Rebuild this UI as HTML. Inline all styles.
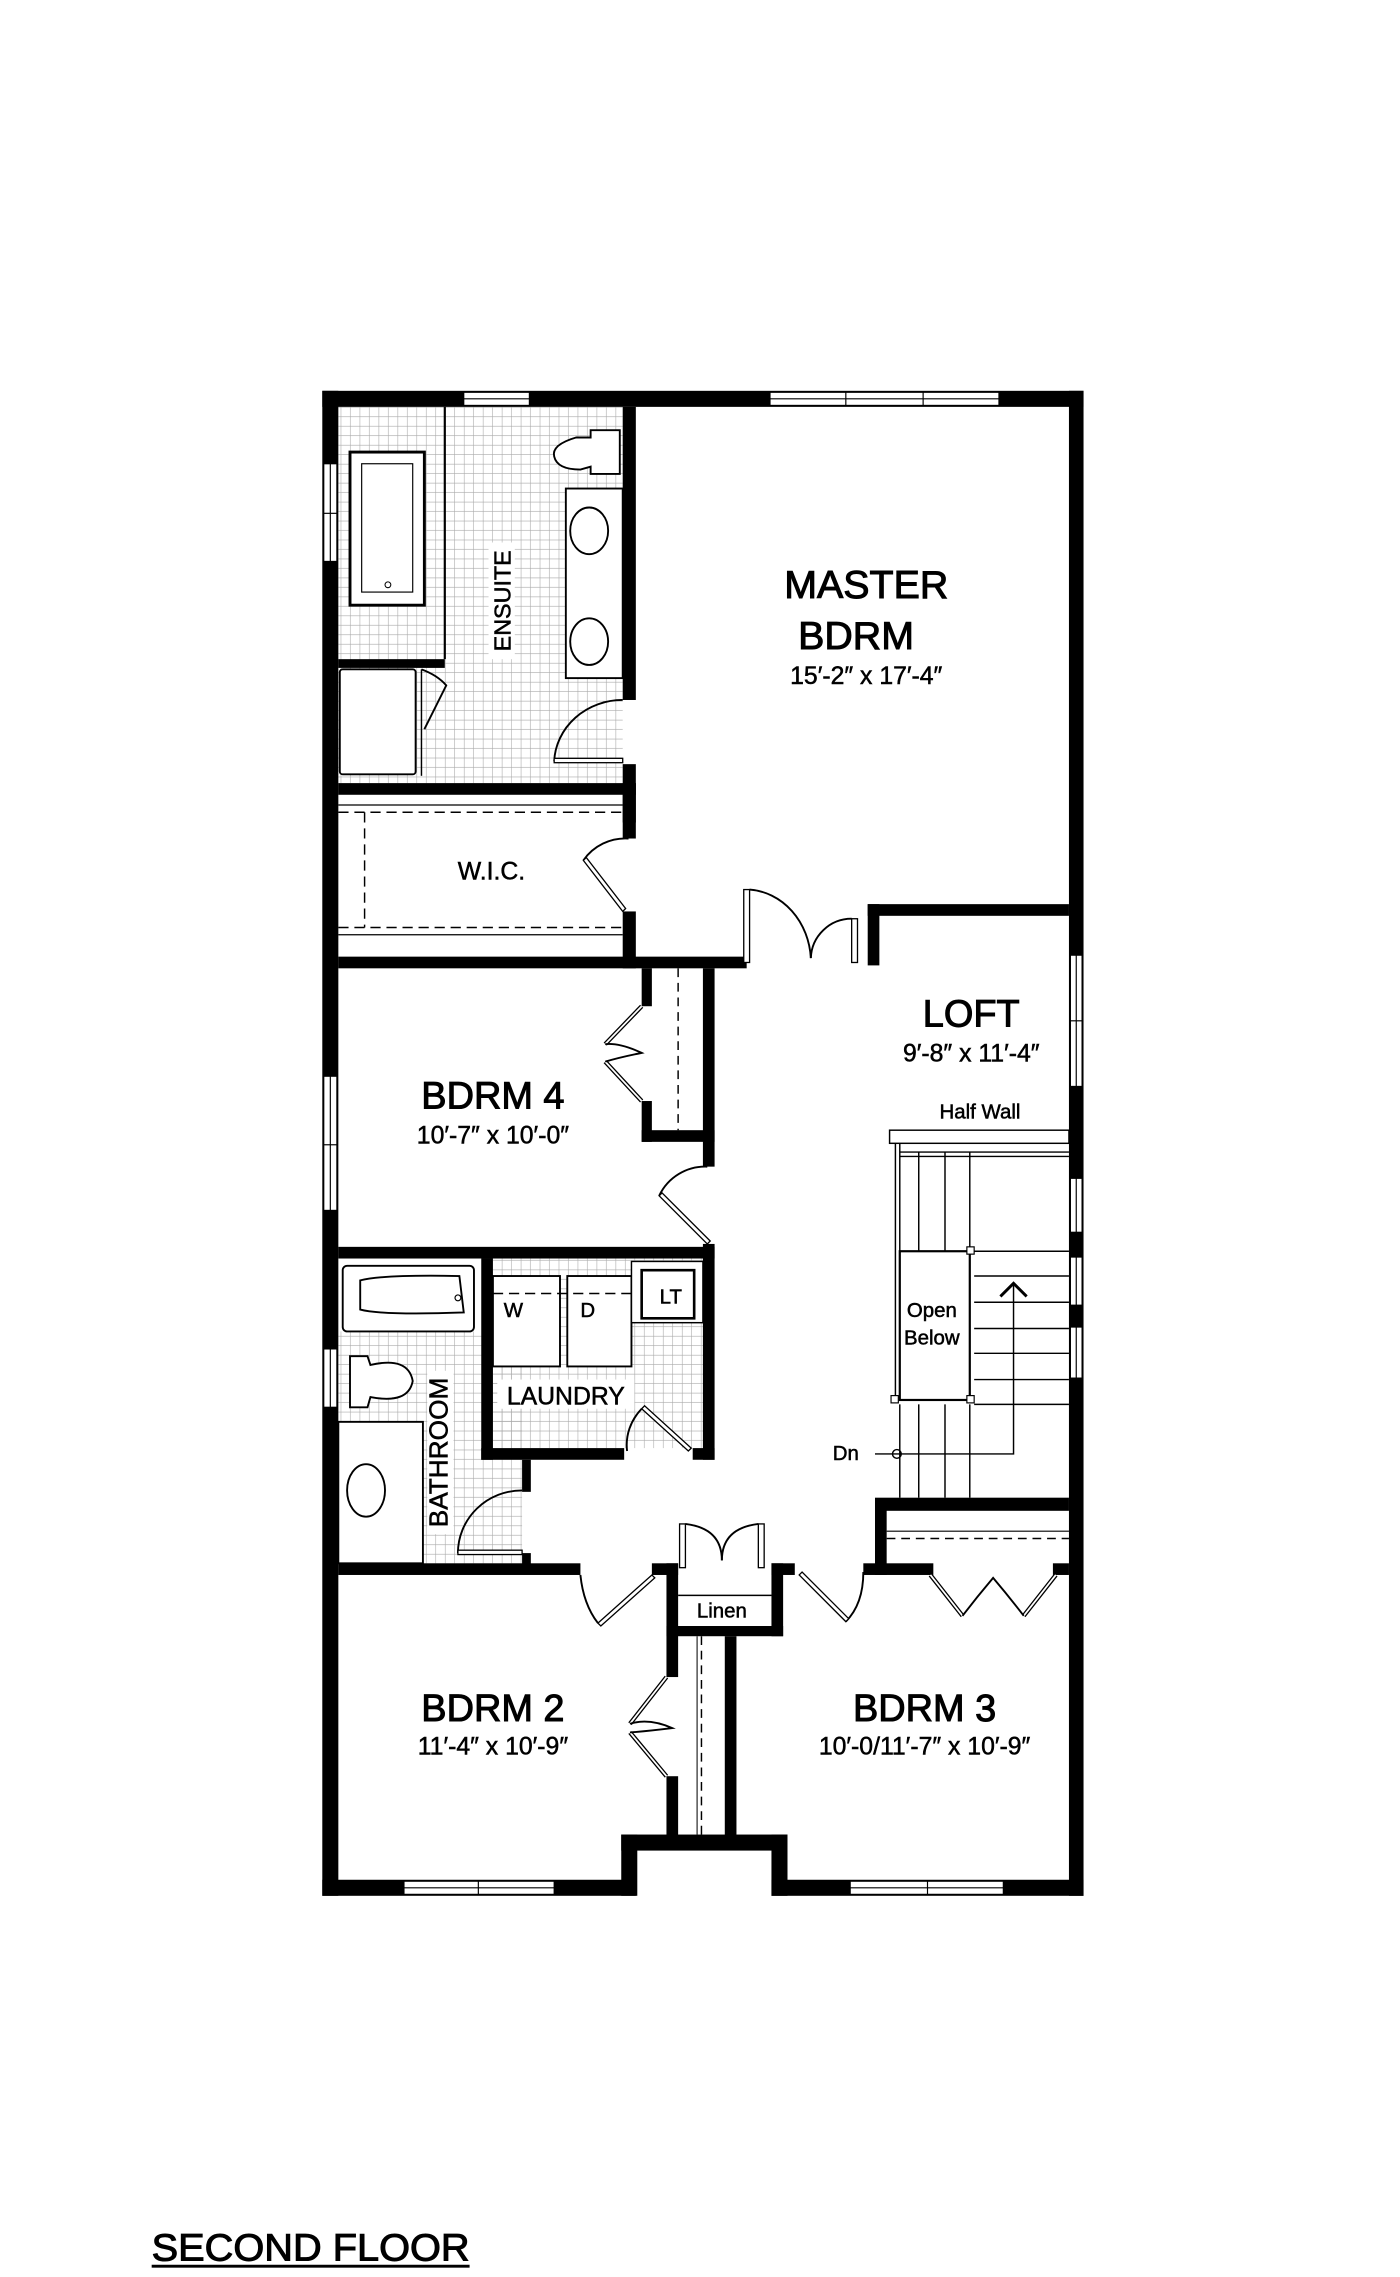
<!DOCTYPE html>
<html><head><meta charset="utf-8"><style>
html,body{margin:0;padding:0;background:#fff;}
svg{display:block;}
text{font-family:"Liberation Sans",sans-serif;fill:#000;stroke:#000;stroke-width:0.35;}
.b{stroke-width:0.7;}
</style></head><body>
<svg width="1400" height="2277" viewBox="0 0 960 1561.4" xmlns="http://www.w3.org/2000/svg">
<defs>
<pattern id="tile" width="6.5" height="6.5" patternUnits="userSpaceOnUse">
<path d="M6.5 0V6.5M0 6.5H6.5" stroke="#aaa" stroke-width="0.8" fill="none"/>
</pattern>
</defs>
<rect width="960" height="1561.4" fill="#fff"/>
<rect x="232" y="279" width="195" height="258" fill="url(#tile)"/>
<rect x="232" y="913" width="126" height="159" fill="url(#tile)"/>
<rect x="338" y="863" width="144" height="130" fill="url(#tile)"/>
<g fill="#000">
<rect x="221" y="268" width="522" height="11"/>
<rect x="221" y="268" width="11" height="1032"/>
<rect x="733" y="268" width="10" height="1032"/>
<rect x="221" y="1289" width="215" height="11"/>
<rect x="426" y="1258" width="11" height="42"/>
<rect x="426" y="1258" width="114" height="11"/>
<rect x="529" y="1258" width="11" height="42"/>
<rect x="529" y="1289" width="214" height="11"/>
<rect x="427" y="279" width="9" height="201"/>
<rect x="427" y="524" width="9" height="40"/>
<rect x="232" y="452" width="73" height="6"/>
<rect x="232" y="537" width="204" height="8"/>
<rect x="427" y="537" width="9" height="38"/>
<rect x="427" y="625" width="9" height="39"/>
<rect x="232" y="656" width="280" height="8"/>
<rect x="595" y="620" width="8" height="42"/>
<rect x="595" y="620" width="138" height="8"/>
<rect x="440" y="664" width="7" height="26"/>
<rect x="440" y="755" width="7" height="28"/>
<rect x="440" y="775" width="50" height="8"/>
<rect x="482" y="664" width="8" height="136"/>
<rect x="482" y="853" width="8" height="148"/>
<rect x="232" y="855" width="258" height="8"/>
<rect x="330" y="863" width="8" height="138"/>
<rect x="330" y="993" width="98" height="8"/>
<rect x="475" y="993" width="15" height="8"/>
<rect x="358" y="1001" width="6" height="22"/>
<rect x="358" y="1065" width="6" height="9"/>
<rect x="232" y="1072" width="166" height="8"/>
<rect x="447" y="1072" width="18" height="8"/>
<rect x="457" y="1072" width="8" height="78"/>
<rect x="457" y="1218" width="8" height="42"/>
<rect x="529" y="1072" width="16" height="8"/>
<rect x="529" y="1072" width="8" height="50"/>
<rect x="457" y="1115" width="80" height="7"/>
<rect x="497" y="1122" width="8" height="138"/>
<rect x="592" y="1072" width="48" height="8"/>
<rect x="722" y="1072" width="11" height="8"/>
<rect x="600" y="1030" width="8" height="50"/>
<rect x="600" y="1027" width="133" height="9"/>
</g>
<g fill="#fff" stroke="#000" stroke-width="0.8">
<rect x="318" y="269" width="45" height="9"/><line x1="318" y1="273.5" x2="363" y2="273.5"/>
<rect x="528" y="269" width="157" height="9"/><line x1="528" y1="273.5" x2="685" y2="273.5"/><line x1="580" y1="269" x2="580" y2="278"/><line x1="633" y1="269" x2="633" y2="278"/>
<rect x="222" y="318" width="9" height="67"/><line x1="226.5" y1="318" x2="226.5" y2="385"/><line x1="222" y1="352" x2="231" y2="352"/>
<rect x="222" y="738" width="9" height="92"/><line x1="226.5" y1="738" x2="226.5" y2="830"/><line x1="222" y1="785" x2="231" y2="785"/>
<rect x="222" y="925" width="9" height="40"/><line x1="226.5" y1="925" x2="226.5" y2="965"/>
<rect x="734" y="655" width="8" height="90"/><line x1="738" y1="655" x2="738" y2="745"/><line x1="734" y1="700" x2="742" y2="700"/>
<rect x="734" y="808" width="8" height="37"/><line x1="738" y1="808" x2="738" y2="845"/>
<rect x="734" y="862" width="8" height="33"/><line x1="738" y1="862" x2="738" y2="895"/>
<rect x="734" y="910" width="8" height="35"/><line x1="738" y1="910" x2="738" y2="945"/>
<rect x="277" y="1290" width="103" height="9"/><line x1="277" y1="1294.5" x2="380" y2="1294.5"/><line x1="328" y1="1290" x2="328" y2="1299"/>
<rect x="583" y="1290" width="105" height="9"/><line x1="583" y1="1294.5" x2="688" y2="1294.5"/><line x1="636" y1="1290" x2="636" y2="1299"/>
</g>
<g fill="#fff" stroke="#000" stroke-width="1.3">
<line x1="305" y1="279" x2="305" y2="452" stroke-width="1.5"/>
<rect x="240" y="310" width="51" height="105" stroke-width="2"/>
<rect x="248" y="318" width="35" height="88" stroke-width="0.8"/>
<circle cx="266" cy="401" r="2" stroke-width="0.7"/>
<rect x="233" y="459" width="52" height="72" rx="2"/>
<line x1="289" y1="459" x2="289" y2="532" stroke-width="1"/>
<path d="M289 459 Q300 463 306 470 L291 500" fill="none"/>
<path d="M395 300 Q378 305 380 313 Q382 322 398 322 L405 320 L405 325 L425 325 L425 295 L405 295 L405 300 Z"/>
<rect x="388" y="335" width="39" height="130"/>
<ellipse cx="404" cy="364" rx="13" ry="16"/>
<ellipse cx="404" cy="440" rx="13" ry="16"/>
<path d="M427 480 A47 44 0 0 0 380 522" fill="none"/>
<rect x="380" y="520" width="47" height="3" stroke-width="0.9"/>
<line x1="232" y1="552" x2="427" y2="552" stroke-width="0.9"/>
<line x1="232" y1="557" x2="427" y2="557" stroke-dasharray="7,4" stroke-width="1"/>
<line x1="232" y1="641" x2="427" y2="641" stroke-width="0.9"/>
<line x1="232" y1="636" x2="427" y2="636" stroke-dasharray="7,4" stroke-width="1"/>
<line x1="250" y1="557" x2="250" y2="636" stroke-dasharray="7,4" stroke-width="1"/>
<path d="M431 575 A35 35 0 0 0 400 590" fill="none"/>
<path d="M400 590 L427 625 L429 623 L402 588 Z" stroke-width="0.9"/>
<rect x="510" y="610" width="4" height="50" stroke-width="0.9"/>
<path d="M514 610 A45 50 0 0 1 556 657" fill="none"/>
<rect x="584" y="630" width="4" height="30" stroke-width="0.9"/>
<path d="M584 630 A28 28 0 0 0 556 657" fill="none"/>
<line x1="465" y1="664" x2="465" y2="775" stroke-dasharray="6,4" stroke-width="1"/>
<path d="M440 690 L415 716 M440 755 L415 728" stroke-width="3" fill="none"/>
<path d="M440 690 L415 716 M440 755 L415 728" stroke="#fff" stroke-width="1.2" fill="none"/>
<path d="M415 716 Q425 715 440 722 Q425 725 415 728" fill="none"/>
<path d="M485 800 A35 35 0 0 0 452 820" fill="none"/>
<path d="M452 820 L485 853 L487 851 L454 818 Z" stroke-width="0.9"/>
<rect x="235" y="868" width="90" height="45" rx="3"/>
<path d="M247 878 Q262 874 315 875 L318 900 Q262 902 247 898 Z"/>
<circle cx="314" cy="890" r="2" stroke-width="0.8"/>
<path d="M240 930 L252 930 L254 936 Q280 930 283 947 Q280 963 254 958 L252 965 L240 965 Z"/>
<rect x="232" y="975" width="58" height="97"/>
<ellipse cx="251" cy="1022" rx="13" ry="18"/>
<path d="M358 1022 A44 43 0 0 0 314 1065" fill="none"/>
<rect x="314" y="1063" width="44" height="3" stroke-width="0.9"/>
<rect x="338" y="875" width="46" height="62"/>
<rect x="389" y="875" width="44" height="62"/>
<line x1="338" y1="887" x2="433" y2="887" stroke-dasharray="7,4" stroke-width="1"/>
<rect x="433" y="865" width="49" height="42" stroke-width="1"/>
<rect x="440" y="871" width="36" height="33" stroke-width="1.8"/>
<path d="M430 995 A42 38 0 0 1 440 966" fill="none"/>
<path d="M440 966 L472 995 L474 993 L442 964 Z" stroke-width="0.9"/>
<path d="M398 1080 Q400 1100 410 1113" fill="none"/>
<path d="M410 1113 L447 1080 L449 1082 L412 1115 Z" stroke-width="0.9"/>
<line x1="465" y1="1094" x2="529" y2="1094" stroke-width="1"/>
<rect x="466" y="1045" width="4" height="30" stroke-width="0.9"/>
<path d="M470 1045 Q495 1048 495 1070" fill="none"/>
<rect x="520" y="1045" width="4" height="30" stroke-width="0.9"/>
<path d="M520 1045 Q495 1048 495 1070" fill="none"/>
<line x1="481" y1="1122" x2="481" y2="1258" stroke-dasharray="6,4" stroke-width="1"/>
<line x1="478" y1="1122" x2="478" y2="1258" stroke-width="0.7"/>
<path d="M457 1150 L432 1182 M457 1218 L432 1188" stroke-width="3" fill="none"/>
<path d="M457 1150 L432 1182 M457 1218 L432 1188" stroke="#fff" stroke-width="1.2" fill="none"/>
<path d="M432 1182 Q445 1178 461 1185 Q445 1187 432 1188" fill="none"/>
<path d="M592 1078 Q592 1100 580 1112" fill="none"/>
<path d="M548 1080 L580 1112 L582 1110 L550 1078 Z" stroke-width="0.9"/>
<line x1="608" y1="1050" x2="733" y2="1050" stroke-width="0.8"/>
<line x1="608" y1="1055" x2="733" y2="1055" stroke-dasharray="6,4" stroke-width="1"/>
<path d="M638 1080 L660 1108 M724 1080 L702 1108" stroke-width="3" fill="none"/>
<path d="M638 1080 L660 1108 M724 1080 L702 1108" stroke="#fff" stroke-width="1.2" fill="none"/>
<path d="M660 1108 Q670 1095 681 1082 Q692 1095 702 1108" fill="none"/>
<rect x="610" y="775" width="123" height="9" stroke-width="1"/>
<line x1="614" y1="784" x2="614" y2="960" stroke-width="1"/>
<line x1="617" y1="784" x2="617" y2="960" stroke-width="1"/>
<line x1="617" y1="790" x2="733" y2="790" stroke-width="1"/>
<line x1="617" y1="793" x2="733" y2="793" stroke-width="1"/>
<line x1="630" y1="790" x2="630" y2="858" stroke-width="1"/>
<line x1="648" y1="790" x2="648" y2="858" stroke-width="1"/>
<line x1="665" y1="790" x2="665" y2="858" stroke-width="1"/>
<rect x="617" y="858" width="48" height="102" stroke-width="1.5"/>
<rect x="663" y="855" width="5" height="5" stroke-width="0.8"/>
<rect x="611" y="957" width="5" height="5" stroke-width="0.8"/>
<rect x="663" y="957" width="5" height="5" stroke-width="0.8"/>
<line x1="668" y1="858" x2="733" y2="858" stroke-width="1"/>
<line x1="668" y1="875" x2="733" y2="875" stroke-width="1"/>
<line x1="668" y1="893" x2="733" y2="893" stroke-width="1"/>
<line x1="668" y1="911" x2="733" y2="911" stroke-width="1"/>
<line x1="668" y1="928" x2="733" y2="928" stroke-width="1"/>
<line x1="668" y1="946" x2="733" y2="946" stroke-width="1"/>
<line x1="668" y1="963" x2="733" y2="963" stroke-width="1"/>
<line x1="617" y1="963" x2="617" y2="1027" stroke-width="1"/>
<line x1="630" y1="963" x2="630" y2="1027" stroke-width="1"/>
<line x1="648" y1="963" x2="648" y2="1027" stroke-width="1"/>
<line x1="665" y1="963" x2="665" y2="1027" stroke-width="1"/>
<path d="M600 997 L695 997 L695 880" fill="none" stroke-width="1"/>
<path d="M686 889 L695 880 L704 889" fill="none" stroke-width="2"/>
<circle cx="615" cy="997" r="3" fill="none" stroke-width="1"/>
</g>
<rect x="335" y="372" width="18" height="80" fill="#fff"/>
<rect x="293" y="940" width="18" height="112" fill="#fff"/>
<rect x="341" y="946" width="94" height="20" fill="#fff"/>
<g text-anchor="middle">
<text class="b" x="594" y="410" font-size="27">MASTER</text>
<text class="b" x="587" y="445" font-size="27">BDRM</text>
<text x="594" y="469" font-size="17">15′-2″ x 17′-4″</text>
<text x="337" y="603" font-size="17">W.I.C.</text>
<text class="b" x="666" y="704" font-size="26">LOFT</text>
<text x="666" y="728" font-size="17">9′-8″ x 11′-4″</text>
<text x="672" y="767" font-size="14">Half Wall</text>
<text class="b" x="338" y="760" font-size="26">BDRM 4</text>
<text x="338" y="784" font-size="17">10′-7″ x 10′-0″</text>
<text x="388" y="963" font-size="17">LAUNDRY</text>
<text x="352" y="903" font-size="14">W</text>
<text x="403" y="903" font-size="14">D</text>
<text x="460" y="894" font-size="14">LT</text>
<text x="639" y="903" font-size="14">Open</text>
<text x="639" y="922" font-size="14">Below</text>
<text x="580" y="1001" font-size="14">Dn</text>
<text x="495" y="1109" font-size="14">Linen</text>
<text class="b" x="338" y="1180" font-size="26">BDRM 2</text>
<text x="338" y="1203" font-size="17">11′-4″ x 10′-9″</text>
<text class="b" x="634" y="1180" font-size="26">BDRM 3</text>
<text x="634" y="1203" font-size="17">10′-0/11′-7″ x 10′-9″</text>
<text transform="translate(350,412) rotate(-90)" font-size="16">ENSUITE</text>
<text transform="translate(307,996) rotate(-90)" font-size="18">BATHROOM</text>
</g>
<text class="b" x="104" y="1550" font-size="26" textLength="218" lengthAdjust="spacingAndGlyphs">SECOND FLOOR</text>
<rect x="104" y="1553" width="218" height="2" fill="#000"/>
</svg>
</body></html>
